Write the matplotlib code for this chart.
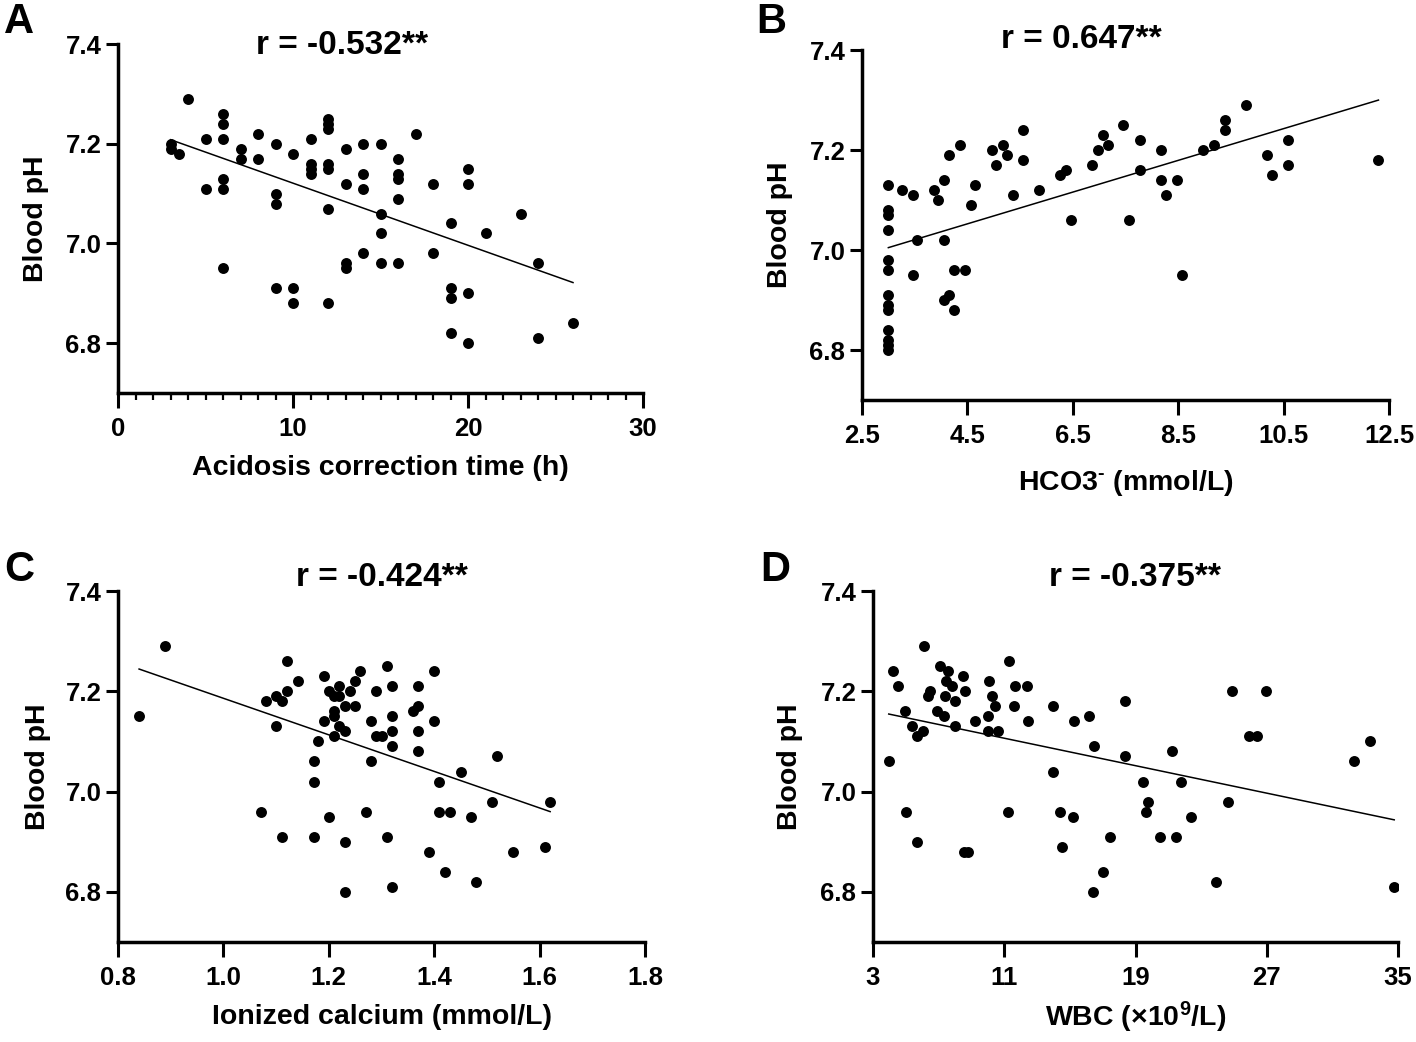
import numpy as np
import matplotlib.pyplot as plt
from matplotlib.ticker import FormatStrFormatter, MultipleLocator

plt.rcParams['font.family'] = ['Liberation Sans', 'DejaVu Sans']
plt.rcParams['font.weight'] = 'bold'
plt.rcParams['mathtext.fontset'] = 'custom'
plt.rcParams['mathtext.rm'] = 'Liberation Sans:bold'
plt.rcParams['mathtext.it'] = 'Liberation Sans:bold'
plt.rcParams['mathtext.bf'] = 'Liberation Sans:bold'
plt.rcParams['mathtext.default'] = 'rm'

# ---- data ----
# A: acidosis correction time (h) vs blood pH
acid_time = [3, 3, 3.5, 4, 5, 5, 6, 6, 6, 6, 6, 6, 7, 7, 8, 8, 9, 9, 9, 9,
             10, 10, 10, 11, 11, 11, 11, 12, 12, 12, 12, 12, 12, 12,
             13, 13, 13, 13, 14, 14, 14, 14, 15, 15, 15, 15, 16, 16, 16, 16, 16,
             17, 18, 18, 19, 19, 19, 19, 20, 20, 20, 20, 21, 23, 24, 24, 26]
ph_a = [7.20, 7.19, 7.18, 7.29, 7.21, 7.11, 7.26, 7.24, 7.21, 7.13, 7.11, 6.95,
        7.19, 7.17, 7.22, 7.17, 7.20, 7.10, 7.08, 6.91, 7.18, 6.91, 6.88,
        7.21, 7.16, 7.15, 7.14, 7.25, 7.24, 7.23, 7.16, 7.15, 7.07, 6.88,
        7.19, 7.12, 6.96, 6.95, 7.20, 7.14, 7.11, 6.98, 7.20, 7.06, 7.02, 6.96,
        7.17, 7.14, 7.13, 7.09, 6.96, 7.22, 7.12, 6.98, 7.04, 6.91, 6.89, 6.82,
        7.15, 7.12, 6.90, 6.80, 7.02, 7.06, 6.96, 6.81, 6.84]

# B: HCO3- (mmol/L) vs blood pH
hco3 = [3.0] * 13 + [3.25, 3.46, 3.46, 3.55, 3.86, 3.95, 4.05, 4.05, 4.05, 4.16,
                     4.16, 4.25, 4.25, 4.36, 4.46, 4.56, 4.65, 4.96, 5.05, 5.17,
                     5.25, 5.36, 5.56, 5.56, 5.86, 6.26, 6.37, 6.46, 6.86, 6.97,
                     7.07, 7.17, 7.46, 7.57, 7.77, 7.77, 8.17, 8.17, 8.27, 8.47,
                     8.57, 8.98, 9.18, 9.38, 9.38, 9.78, 10.18, 10.28, 10.58,
                     10.58, 12.3]
ph_b = [7.13, 7.08, 7.07, 7.04, 6.98, 6.96, 6.91, 6.89, 6.88, 6.84, 6.82, 6.81, 6.80,
        7.12, 7.11, 6.95, 7.02, 7.12, 7.10, 7.14, 7.02, 6.90, 7.19,
        6.91, 6.96, 6.88, 7.21, 6.96, 7.09, 7.13, 7.20, 7.17, 7.21,
        7.19, 7.11, 7.24, 7.18, 7.12, 7.15, 7.16, 7.06, 7.17, 7.20,
        7.23, 7.21, 7.25, 7.06, 7.22, 7.16, 7.20, 7.14, 7.11, 7.14,
        6.95, 7.20, 7.21, 7.26, 7.24, 7.29, 7.19, 7.15, 7.22,
        7.17, 7.18]

# C: ionized calcium (mmol/L) vs blood pH
calcium = [0.84, 0.89, 1.071, 1.081, 1.10, 1.10, 1.111, 1.111, 1.121, 1.121, 1.141,
           1.171, 1.171, 1.171, 1.18, 1.19, 1.19, 1.20, 1.20, 1.21, 1.21, 1.21, 1.21,
           1.22, 1.22, 1.22, 1.23, 1.23, 1.23, 1.23, 1.24, 1.25, 1.25, 1.26, 1.27,
           1.28, 1.28, 1.29, 1.29, 1.30, 1.31, 1.31, 1.32, 1.32, 1.32, 1.32, 1.32,
           1.36, 1.37, 1.37, 1.37, 1.37, 1.39, 1.40, 1.40, 1.41, 1.41, 1.43, 1.42,
           1.45, 1.47, 1.48, 1.51, 1.52, 1.55, 1.61, 1.62]
ph_c = [7.15, 7.29, 6.96, 7.18, 7.19, 7.13, 7.18, 6.91, 7.26, 7.20, 7.22,
        7.06, 7.02, 6.91, 7.10, 7.23, 7.14, 7.20, 6.95, 7.19, 7.16, 7.15, 7.11,
        7.21, 7.19, 7.13, 7.17, 7.12, 6.90, 6.80, 7.20, 7.22, 7.17, 7.24, 6.96,
        7.14, 7.06, 7.20, 7.11, 7.11, 7.25, 6.91, 7.21, 7.15, 7.12, 7.09, 6.81,
        7.16, 7.21, 7.17, 7.12, 7.08, 6.88, 7.24, 7.14, 7.02, 6.96, 6.96, 6.84,
        7.04, 6.95, 6.82, 6.98, 7.07, 6.88, 6.89, 6.98]

# D: WBC (x10^9/L) vs blood pH
wbc = [3.96, 4.24, 4.54, 4.97, 5.03, 5.35, 5.67, 6.03, 5.67, 6.08, 6.38, 6.46,
       6.93, 7.10, 7.32, 7.38, 7.42, 7.59, 7.79, 8.02, 8.02, 8.51, 8.60, 8.56,
       8.81, 9.20, 9.99, 10.03, 10.09, 10.26, 10.41, 10.59, 11.21, 11.31, 11.59,
       11.65, 12.36, 12.44, 13.98, 13.98, 14.37, 14.54, 15.22, 15.26, 16.18,
       16.46, 16.42, 17.04, 17.42, 18.36, 18.36, 19.45, 19.75, 19.67, 20.52,
       21.21, 21.48, 21.80, 22.38, 23.88, 24.62, 24.88, 25.91, 26.40, 26.97,
       32.32, 33.32, 34.77]
ph_d = [7.06, 7.24, 7.21, 7.16, 6.96, 7.13, 7.11, 7.12, 6.90, 7.29, 7.19, 7.20,
        7.16, 7.25, 7.15, 7.19, 7.22, 7.24, 7.21, 7.18, 7.13, 7.23, 7.20, 6.88,
        6.88, 7.14, 7.15, 7.12, 7.22, 7.19, 7.17, 7.12, 6.96, 7.26, 7.17,
        7.21, 7.21, 7.14, 7.17, 7.04, 6.96, 6.89, 6.95, 7.14, 7.15,
        7.09, 6.80, 6.84, 6.91, 7.18, 7.07, 7.02, 6.98, 6.96, 6.91,
        7.08, 6.91, 7.02, 6.95, 6.82, 6.98, 7.20, 7.11, 7.11, 7.20,
        7.06, 7.10, 6.81]

letters = ['A', 'B', 'C', 'D']
r_labels = ['r = -0.532**', 'r = 0.647**', 'r = -0.424**', 'r = -0.375**']
x_labels = ['Acidosis correction time (h)', 'HCO3$^{\u2010}$ (mmol/L)',
            'Ionized calcium (mmol/L)', r'WBC (×10$^{9}$/L)']
x_ticks = [[0, 10, 20, 30], [2.5, 4.5, 6.5, 8.5, 10.5, 12.5],
           [0.8, 1.0, 1.2, 1.4, 1.6, 1.8], [3, 11, 19, 27, 35]]
y_ticks = [6.8, 7.0, 7.2, 7.4]

W, H = 1416, 1042
fig = plt.figure(figsize=(W / 100, H / 100), dpi=100)

# axes boxes in pixels: left, right, top, bottom
boxes = [(118, 643, 44, 393), (862, 1389, 50, 400),
         (118, 645, 591, 942), (873, 1398, 591, 942)]
letter_pos = [(19, 22), (771, 22), (19, 570), (775, 570)]
title_pos = [(342, 45), (1081, 39), (382, 577), (1135, 577)]
ylabel_x = [36, 780, 38, 790]
xlabel_y = [468, 483, 1017, 1017]

data = [(acid_time, ph_a), (hco3, ph_b), (calcium, ph_c), (wbc, ph_d)]

for i in range(4):
    l, r, t, b = boxes[i]
    ax = fig.add_axes([l / W, 1 - b / H, (r - l) / W, (b - t) / H])
    x = np.array(data[i][0])
    y = np.array(data[i][1])
    ax.scatter(x, y, s=62, color='black', zorder=3, linewidths=0)
    k, c = np.polyfit(x, y, 1)
    xs = np.array([x.min(), x.max()])
    ax.plot(xs, k * xs + c, color='black', lw=1.1, zorder=2)

    ax.set_xlim(x_ticks[i][0], x_ticks[i][-1])
    ax.set_ylim(6.7, 7.4)
    ax.set_xticks(x_ticks[i])
    ax.set_yticks(y_ticks)
    ax.yaxis.set_major_formatter(FormatStrFormatter('%.1f'))
    if i in (1, 2):
        ax.xaxis.set_major_formatter(FormatStrFormatter('%.1f'))
    if i == 0:
        ax.xaxis.set_minor_locator(MultipleLocator(1))
        ax.tick_params(axis='x', which='minor', length=5, width=1.6)

    for s in ['top', 'right']:
        ax.spines[s].set_visible(False)
    for s in ['left', 'bottom']:
        ax.spines[s].set_linewidth(2.5)
    ax.tick_params(axis='x', which='major', length=11, width=2.2, labelsize=18.5, pad=6)
    ax.tick_params(axis='y', which='major', length=9, width=2.2, labelsize=18.5, pad=3)
    for lab in ax.get_xticklabels() + ax.get_yticklabels():
        lab.set_fontweight('bold')

    ax.set_ylabel('Blood pH', fontsize=20.5, fontweight='bold', va='center')
    ax.yaxis.set_label_coords((ylabel_x[i] - l) / (r - l), 0.5)
    ax.set_xlabel(x_labels[i], fontsize=20.5, fontweight='bold', va='center')
    ax.xaxis.set_label_coords(0.5, (b - xlabel_y[i]) / (b - t))

    fig.text(letter_pos[i][0] / W, 1 - letter_pos[i][1] / H, letters[i],
             fontsize=30, fontweight='bold', ha='center', va='center')
    fig.text(title_pos[i][0] / W, 1 - title_pos[i][1] / H, r_labels[i],
             fontsize=24, fontweight='bold', ha='center', va='center')

fig.savefig('out.png', dpi=100)
